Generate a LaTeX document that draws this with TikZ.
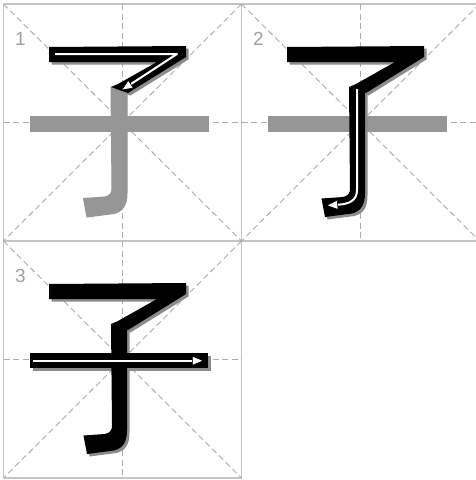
\documentclass[tikz,border=0pt]{standalone}
\usepackage{fontspec}
\setmainfont{Liberation Sans}
\usetikzlibrary{arrows.meta}
\definecolor{gridline}{RGB}{196,196,196}
\definecolor{dashline}{RGB}{172,172,172}
\definecolor{ghost}{RGB}{150,150,150}
\definecolor{shade}{RGB}{140,140,140}
\definecolor{numcol}{RGB}{160,160,160}

% stroke outlines in panel-1 coordinates (pixels, y downward)
\newcommand\strokeOne[1]{\path[#1] (49,47) -- (186,46) -- (186,57) -- (128,93) -- (111,87) -- (118,84) -- (157,62) -- (49,62) -- cycle;}
\newcommand\strokeTwo[1]{\path[#1] (111,87) -- (127,92) -- (127,193) .. controls (127,205) and (123,211) .. (114,213.5) -- (87,217) -- (83.5,198.5) -- (105,197) .. controls (110,196) and (112,193) .. (112,189) -- cycle;}
\newcommand\strokeThree[1]{\path[#1] (30,116) -- (208,116) -- (208,131) -- (30,131) -- cycle;}
\newcommand\panelguides{%
  \draw[guide] (3.5,4) -- (241.5,241);
  \draw[guide] (241.5,4) -- (3.5,241);
  \draw[guide] (122.5,4) -- (122.5,241);
  \draw[guide] (3.5,122.5) -- (241.5,122.5);}

\begin{document}
\begin{tikzpicture}[x=1pt,y=-1pt,
  grid/.style={draw=gridline, line width=1.1pt},
  guide/.style={draw=dashline, line width=0.9pt, dash pattern=on 6pt off 3.5pt},
  ghoststroke/.style={fill=ghost, draw=ghost, line width=1pt, line join=round},
  inkshadow/.style={fill=shade, shift={(2.5,2.5)}},
  ink/.style={fill=black},
  flow/.style={draw=white, line width=2pt, line join=round,
    -{Triangle[length=12pt,width=10pt,color=black,fill=white,line width=0.6pt]}},
  numlabel/.style={text=numcol, font=\fontsize{19}{19}\selectfont, inner sep=0pt}]
\useasboundingbox (0,0) rectangle (476,480);
\fill[white] (0,0) rectangle (476,480);

% outer grid
\draw[grid] (3.5,4) -- (479.5,4);
\draw[grid] (3.5,241) -- (479.5,241);
\draw[grid] (3.5,478) -- (241.5,478);
\draw[grid] (3.5,4) -- (3.5,478);
\draw[grid] (241.5,4) -- (241.5,478);

% panel 1
\begin{scope}
  \panelguides
  \strokeTwo{ghoststroke}
  \strokeThree{ghoststroke}
  \strokeOne{inkshadow}
  \strokeOne{ink}
  \coordinate (a1) at (55,54);
  \coordinate (a2) at (177,54);
  \coordinate (a3) at (121,90.5);
  \draw[flow] (a1) -- (a2) -- (a3);
  \node[numlabel] (n1) at (20.5,38.5) {1};
\end{scope}

% panel 2
\begin{scope}[shift={(238,0)}]
  \panelguides
  \strokeThree{ghoststroke}
  \strokeOne{inkshadow}
  \strokeTwo{inkshadow}
  \strokeOne{ink}
  \strokeTwo{ink}
  \coordinate (b1) at (119,89);
  \coordinate (b2) at (119,190);
  \coordinate (b3) at (88,205.5);
  \draw[flow] (b1) -- (b2) .. controls (119,200) and (112,204) .. (b3);
  \node[numlabel] (n2) at (20.5,38.5) {2};
\end{scope}

% panel 3
\begin{scope}[shift={(0,237)}]
  \panelguides
  \strokeOne{inkshadow}
  \strokeTwo{inkshadow}
  \strokeThree{inkshadow}
  \strokeOne{ink}
  \strokeTwo{ink}
  \strokeThree{ink}
  \coordinate (c1) at (33,123.7);
  \coordinate (c2) at (204,123.7);
  \draw[flow] (c1) -- (c2);
  \node[numlabel] (n3) at (20.5,38.5) {3};
\end{scope}
\end{tikzpicture}
\end{document}
